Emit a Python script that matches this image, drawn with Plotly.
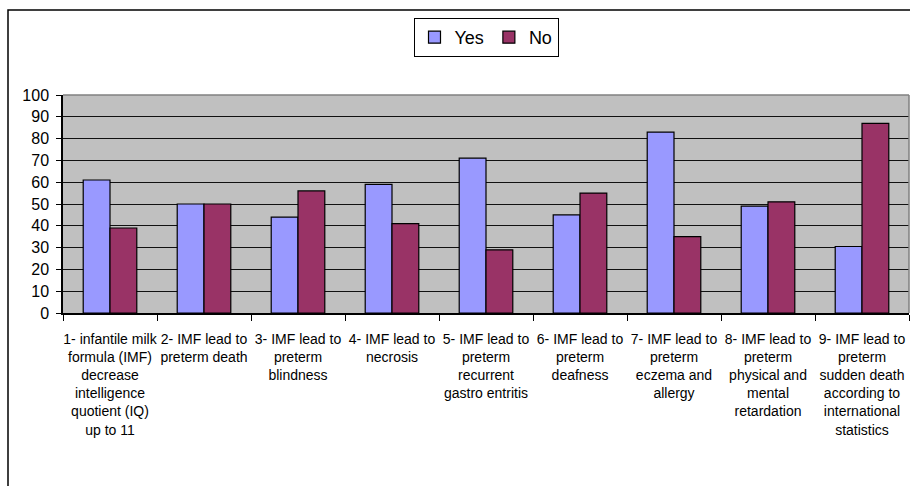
import plotly.graph_objects as go

# Survey statements (category axis) and response percentages
categories = [
    "1- infantile milk<br>formula (IMF)<br>decrease<br>intelligence<br>quotient (IQ)<br>up to 11",
    "2- IMF lead to<br>preterm death",
    "3- IMF lead to<br>preterm<br>blindness",
    "4- IMF lead to<br>necrosis",
    "5- IMF lead to<br>preterm<br>recurrent<br>gastro entritis",
    "6- IMF lead to<br>preterm<br>deafness",
    "7- IMF lead to<br>preterm<br>eczema and<br>allergy",
    "8- IMF lead to<br>preterm<br>physical and<br>mental<br>retardation",
    "9- IMF lead to<br>preterm<br>sudden death<br>according to<br>international<br>statistics",
]
yes_values = [61, 50, 44, 59, 71, 45, 83, 49, 30.5]
no_values = [39, 50, 56, 41, 29, 55, 35, 51, 87]
y_ticks = [0, 10, 20, 30, 40, 50, 60, 70, 80, 90, 100]

FONT = "Liberation Sans, Arial, sans-serif"
W, H = 910, 486
M_L, M_R, M_T, M_B = 63, 1, 95, 173
plot_w = W - M_L - M_R
plot_h = H - M_T - M_B


def px_to_paper_x(px):
    return (px - M_L) / plot_w


def px_to_paper_y(py):
    return (H - M_B - py) / plot_h


fig = go.Figure()
fig.add_trace(go.Bar(
    name="Yes", x=categories, y=yes_values,
    marker=dict(color="#9999ff", line=dict(color="black", width=1.2)),
))
fig.add_trace(go.Bar(
    name="No", x=categories, y=no_values,
    marker=dict(color="#993366", line=dict(color="black", width=1.2)),
))

fig.update_layout(
    width=W, height=H,
    margin=dict(l=M_L, r=M_R, t=M_T, b=M_B, pad=0),
    paper_bgcolor="white",
    plot_bgcolor="#c0c0c0",
    barmode="group",
    bargap=0.43,
    bargroupgap=0,
    font=dict(family=FONT, color="black"),
    legend=dict(
        orientation="h",
        x=0.5, xanchor="center",
        y=px_to_paper_y(18), yanchor="top",
        font=dict(size=18, family=FONT),
        bordercolor="black", borderwidth=1,
        bgcolor="white",
        itemwidth=30,
        traceorder="normal",
    ),
    showlegend=True,
)

fig.update_xaxes(
    type="category",
    showline=True, linecolor="black", linewidth=1.5,
    ticks="outside", tickson="boundaries", ticklen=6, tickwidth=1.2, tickcolor="black",
    tickfont=dict(size=14, family=FONT, color="black"),
    ticklabelstandoff=12,
    tickangle=0,
    showgrid=False,
    fixedrange=True,
)
fig.update_yaxes(
    range=[0, 100],
    tickvals=y_ticks,
    showline=True, linecolor="black", linewidth=1.5,
    ticks="outside", ticklen=5, tickwidth=1.2, tickcolor="black",
    tickfont=dict(size=16, family=FONT, color="black"),
    ticklabelstandoff=4,
    showgrid=True, gridcolor="#111111", gridwidth=1.3,
    zeroline=False,
    fixedrange=True,
)

# Grey frame on the top and right of the plot area
fig.add_shape(type="line", xref="paper", yref="paper", x0=0, x1=1, y0=1, y1=1,
              line=dict(color="#808080", width=1.5), layer="above")
fig.add_shape(type="line", xref="paper", yref="paper", x0=1, x1=1, y0=0, y1=1,
              line=dict(color="#808080", width=1.5), layer="above")

# Outer chart-area border
fig.add_shape(type="rect", xref="paper", yref="paper",
              x0=px_to_paper_x(8), x1=px_to_paper_x(930),
              y0=px_to_paper_y(520), y1=px_to_paper_y(10),
              line=dict(color="black", width=1.5), fillcolor="rgba(0,0,0,0)",
              layer="above")

fig.write_html("out.html")
